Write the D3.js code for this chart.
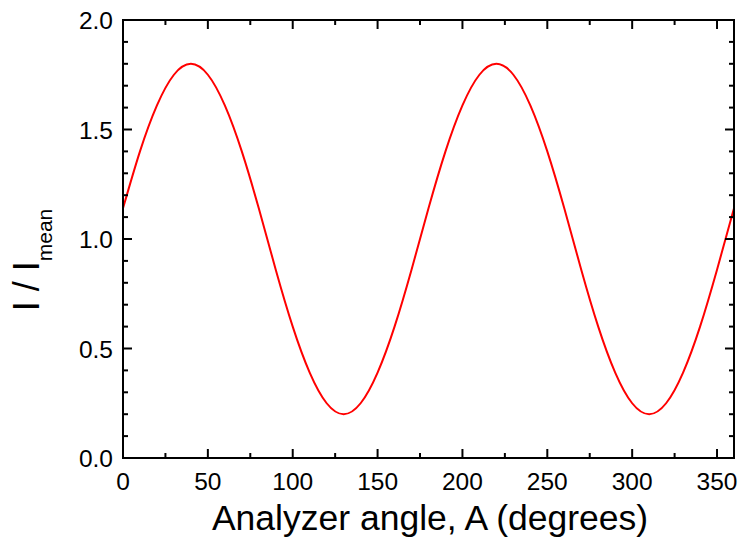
<!DOCTYPE html>
<html>
<head>
<meta charset="utf-8">
<script src="https://cdn.jsdelivr.net/npm/d3@7"></script>
<style>
body{margin:0;background:#fff;}
text{font-family:"Liberation Sans",Arial,sans-serif;}
</style>
</head>
<body>
<svg id="chart" width="742" height="544"></svg>
<script>
const angles = [0,10,20,30,40,50,60,70,80,90,100,110,120,130,140,150,160,170,180,190,200,210,220,230,240,250,260,270,280,290,300,310,320,330,340,350,360];
const intensity = [1.14,1.40,1.61,1.75,1.80,1.75,1.61,1.40,1.14,0.86,0.60,0.39,0.25,0.20,0.25,0.39,0.60,0.86,1.14,1.40,1.61,1.75,1.80,1.75,1.61,1.40,1.14,0.86,0.60,0.39,0.25,0.20,0.25,0.39,0.60,0.86,1.14];
const xTicks = [0,50,100,150,200,250,300,350];
const xMinor = [25,75,125,175,225,275,325];
const yTicks = [0.0,0.5,1.0,1.5,2.0];
const yMinor = [0.1,0.2,0.3,0.4,0.6,0.7,0.8,0.9,1.1,1.2,1.3,1.4,1.6,1.7,1.8,1.9];

const L=123, R=734, T=20, B=458;
const svg = d3.select("#chart");
const x = d3.scaleLinear().domain([0,360]).range([L,R]);
const y = d3.scaleLinear().domain([0,2]).range([B,T]);

const line = d3.line().x((d,i)=>x(angles[i])).y(d=>y(d)).curve(d3.curveNatural);
svg.append("path").datum(intensity).attr("d",line)
  .attr("fill","none").attr("stroke","#ff0000").attr("stroke-width",2);

const g = svg.append("g").attr("stroke","#000").attr("stroke-width",2);
function vt(v,len){
  g.append("line").attr("x1",x(v)).attr("x2",x(v)).attr("y1",B).attr("y2",B-len);
  g.append("line").attr("x1",x(v)).attr("x2",x(v)).attr("y1",T).attr("y2",T+len);
}
function ht(v,len){
  g.append("line").attr("y1",y(v)).attr("y2",y(v)).attr("x1",L).attr("x2",L+len);
  g.append("line").attr("y1",y(v)).attr("y2",y(v)).attr("x1",R).attr("x2",R-len);
}
xTicks.forEach(v=>vt(v,9));
xMinor.forEach(v=>vt(v,5));
yTicks.forEach(v=>ht(v,9));
yMinor.forEach(v=>ht(v,5));
g.append("rect").attr("x",L).attr("y",T).attr("width",R-L).attr("height",B-T).attr("fill","none");

svg.selectAll(".xl").data(xTicks).enter().append("text")
  .attr("x",d=>x(d)).attr("y",B+32).attr("text-anchor","middle")
  .attr("font-size",24.5).text(d=>d);
svg.selectAll(".yl").data(yTicks).enter().append("text")
  .attr("x",L-10).attr("y",d=>y(d)+9).attr("text-anchor","end")
  .attr("font-size",24.5).text(d=>d.toFixed(1));

svg.append("text").attr("x",430).attr("y",530).attr("text-anchor","middle")
  .attr("font-size",35.5).text("Analyzer angle, A (degrees)");

const yt = svg.append("text").attr("transform","translate(39,260) rotate(-90)")
  .attr("text-anchor","middle").attr("font-size",36);
yt.append("tspan").text("I / I");
yt.append("tspan").attr("font-size",21).attr("dy",13).text("mean");
</script>
</body>
</html>
